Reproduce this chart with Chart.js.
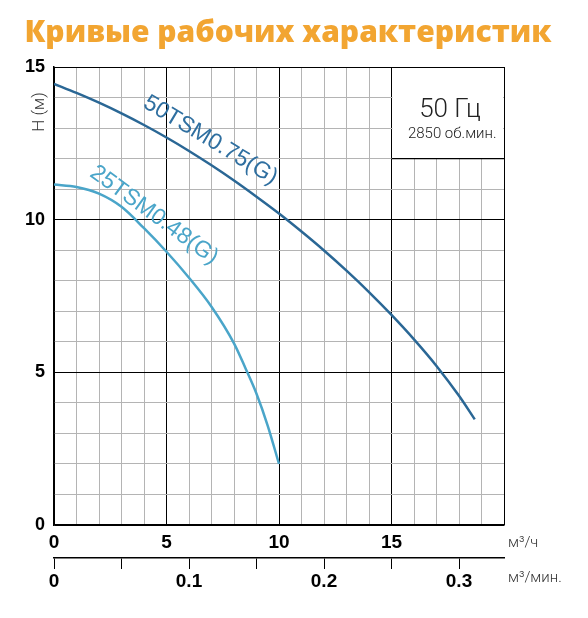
<!DOCTYPE html>
<html>
<head>
<meta charset="utf-8">
<script src="https://cdn.jsdelivr.net/npm/chart.js@4.4.1/dist/chart.umd.min.js"></script>
<style>
    html, body { margin: 0; padding: 0; background: #fff; }
    canvas { display: block; }
</style>
</head>
<body>
<canvas id="pumpChart" width="588" height="618"></canvas>
<script>
// Flow Q (m3/h) and head H (m)
const flow50 = [0, 1, 2, 3, 4, 5, 6, 7, 8, 9, 10, 11, 12, 13, 14, 15, 16, 17, 18, 18.7];
const head50 = [14.45, 14.15, 13.83, 13.48, 13.1, 12.69, 12.25, 11.78, 11.28, 10.75, 10.2, 9.61, 8.99, 8.33, 7.63, 6.88, 6.08, 5.21, 4.23, 3.46];
const flow25 = [0, 1, 2, 3, 4, 5, 6, 7, 8, 8.5, 9, 9.5, 10];
const head25 = [11.15, 11.07, 10.85, 10.42, 9.72, 8.95, 8.1, 7.15, 5.95, 5.15, 4.3, 3.25, 2.0];
const curveNames = ['50TSM0.75(G)', '25TSM0.48(G)'];

// Tick labels
const flowTicks = [0, 5, 10, 15];
const headTicks = [0, 5, 10, 15];
const minuteTicks = [0, 0.1, 0.2, 0.3];

const darkBlue = '#2a6795';
const lightBlue = '#4aa5c9';

function gridColor(c) {
    return c.tick && c.tick.value % 5 === 0 ? '#000' : '#b4b4b4';
}

// Extra drawing: the 50 Hz box, curve names, axis units
const overlayPlugin = {
    id: 'overlay',
    beforeDatasetsDraw(chart) {
        const {ctx, scales: {x, y}} = chart;
        const l = x.getPixelForValue(15), r = x.getPixelForValue(20);
        const t = y.getPixelForValue(15), b = y.getPixelForValue(12);
        ctx.save();
        ctx.fillStyle = '#fff';
        ctx.fillRect(l + 1, t + 1, r - l - 2, b - t - 1);
        ctx.strokeStyle = '#000';
        ctx.lineWidth = 1.2;
        ctx.beginPath();
        ctx.moveTo(l, b);
        ctx.lineTo(r, b);
        ctx.stroke();

        ctx.fillStyle = '#222';
        ctx.textAlign = 'center';
        ctx.textBaseline = 'middle';
        ctx.font = '300 26px Roboto';
        ctx.fillText('50 Гц', x.getPixelForValue(17.6), y.getPixelForValue(13.56));
        ctx.font = '300 15px Roboto';
        ctx.fillText('2850 об.мин.', x.getPixelForValue(17.7), y.getPixelForValue(12.8));
        ctx.restore();
    },
    afterDatasetsDraw(chart) {
        const {ctx, scales: {x, y}} = chart;
        ctx.save();
        ctx.textAlign = 'center';
        ctx.textBaseline = 'middle';
        ctx.font = '23px "Liberation Sans"';

        ctx.save();
        ctx.translate(x.getPixelForValue(6.95), y.getPixelForValue(12.6));
        ctx.rotate(31 * Math.PI / 180);
        ctx.fillStyle = '#2f6fa0';
        ctx.fillText(curveNames[0], 0, 0);
        ctx.restore();

        ctx.save();
        ctx.translate(x.getPixelForValue(4.45), y.getPixelForValue(10.15));
        ctx.rotate(36 * Math.PI / 180);
        ctx.fillStyle = lightBlue;
        ctx.fillText(curveNames[1], 0, 0);
        ctx.restore();

        // axis title and units
        ctx.fillStyle = '#333';
        ctx.save();
        ctx.translate(40, 112);
        ctx.rotate(-Math.PI / 2);
        ctx.font = '300 17px Roboto';
        ctx.fillText('Н (м)', 0, 0);
        ctx.restore();

        ctx.textAlign = 'left';
        ctx.font = '300 15px Roboto';
        ctx.fillText('м³/ч', x.right + 4, 543);
        ctx.fillText('м³/мин.', x.right + 4, 578);
        ctx.restore();
    }
};

const tickFont = {family: '"Liberation Sans", Arial', size: 19, weight: 'bold'};

new Chart(document.getElementById('pumpChart'), {
    type: 'scatter',
    data: {
        datasets: [
            {
                label: curveNames[0],
                data: flow50.map((q, i) => ({x: q, y: head50[i]})),
                showLine: true,
                borderColor: darkBlue,
                borderWidth: 2.5,
                pointRadius: 0,
                cubicInterpolationMode: 'monotone'
            },
            {
                label: curveNames[1],
                data: flow25.map((q, i) => ({x: q, y: head25[i]})),
                showLine: true,
                borderColor: lightBlue,
                borderWidth: 2.5,
                pointRadius: 0,
                cubicInterpolationMode: 'monotone'
            }
        ]
    },
    options: {
        responsive: false,
        animation: false,
        layout: {padding: {left: 0, right: 12, top: 0, bottom: 0}},
        plugins: {
            legend: {display: false},
            tooltip: {enabled: false},
            title: {
                display: true,
                text: 'Кривые рабочих характеристик',
                color: '#f2a531',
                font: {family: '"Open Sans"', size: 30, weight: 800, lineHeight: 1.2},
                padding: {top: 15, bottom: 16}
            }
        },
        scales: {
            x: {
                type: 'linear',
                position: 'bottom',
                min: 0,
                max: 20,
                afterFit: s => { s.height = 33; },
                ticks: {
                    stepSize: 1,
                    autoSkip: false,
                    maxRotation: 0,
                    padding: 6,
                    color: '#000',
                    font: tickFont,
                    callback: v => flowTicks.includes(v) ? String(v) : ''
                },
                grid: {drawTicks: false, color: gridColor, lineWidth: 1},
                border: {color: '#000', width: 1.5}
            },
            x2: {
                type: 'linear',
                position: 'bottom',
                weight: 1,
                min: 0,
                max: 20 / 60,
                afterFit: s => { s.height = 60; },
                ticks: {
                    stepSize: 0.05,
                    includeBounds: false,
                    autoSkip: false,
                    maxRotation: 0,
                    padding: 1,
                    color: '#000',
                    font: tickFont,
                    callback: v => {
                        const hit = minuteTicks.find(m => Math.abs(m - v) < 1e-6);
                        return hit === undefined ? '' : String(hit);
                    }
                },
                grid: {drawOnChartArea: false, drawTicks: true, tickLength: 11, color: '#000', lineWidth: 1},
                border: {color: '#000', width: 1.5}
            },
            y: {
                type: 'linear',
                min: 0,
                max: 15,
                afterFit: s => { s.width = 54; },
                ticks: {
                    stepSize: 1,
                    autoSkip: false,
                    padding: 9,
                    color: '#000',
                    font: {family: '"Liberation Sans", Arial', size: 18, weight: 'bold'},
                    callback: v => headTicks.includes(v) ? String(v) : ''
                },
                grid: {drawTicks: false, color: gridColor, lineWidth: 1},
                border: {color: '#000', width: 1.5}
            },
            // empty right-hand strip that holds the unit labels
            yRight: {
                position: 'right',
                afterFit: s => { s.width = 72; },
                ticks: {display: false},
                grid: {display: false},
                border: {display: false}
            }
        }
    },
    plugins: [overlayPlugin]
});
</script>
</body>
</html>
